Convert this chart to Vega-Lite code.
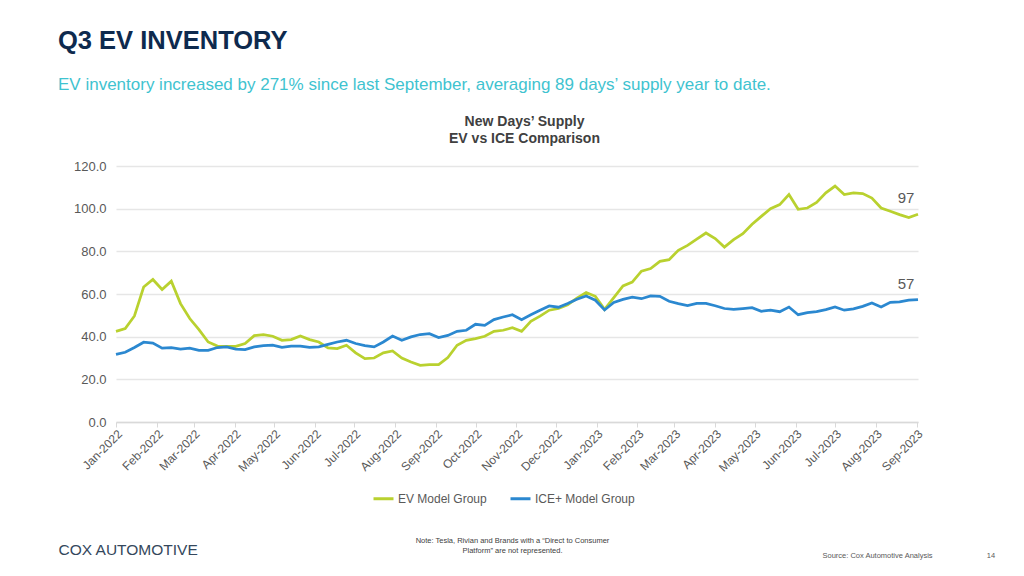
{
  "$schema": "https://vega.github.io/schema/vega-lite/v6.json",
  "width": 802,
  "height": 256,
  "autosize": {"type": "none"},
  "padding": {"left": 116, "top": 166, "right": 106, "bottom": 154},
  "background": "white",
  "title": {
    "text": "Q3 EV INVENTORY",
    "subtitle": "EV inventory increased by 271% since last September, averaging 89 days’ supply year to date.",
    "anchor": "start",
    "frame": "group",
    "dx": -58,
    "offset": 21,
    "font": "Liberation Sans",
    "fontSize": 25.5,
    "fontWeight": "bold",
    "color": "#0e2a4e",
    "subtitleFont": "Liberation Sans",
    "subtitleFontSize": 17,
    "subtitleColor": "#3fc3d0",
    "subtitlePadding": 23
  },
  "data": {
    "values": [
      {"date": "2022/01/01", "ev": 42.5, "ice": 31.7},
      {"date": "2022/01/08", "ev": 43.8, "ice": 32.7},
      {"date": "2022/01/15", "ev": 49.7, "ice": 34.9},
      {"date": "2022/01/22", "ev": 63.3, "ice": 37.4},
      {"date": "2022/01/29", "ev": 66.8, "ice": 37.0},
      {"date": "2022/02/05", "ev": 62.1, "ice": 34.6},
      {"date": "2022/02/12", "ev": 66.0, "ice": 34.9},
      {"date": "2022/02/19", "ev": 55.5, "ice": 34.2},
      {"date": "2022/02/26", "ev": 48.5, "ice": 34.6},
      {"date": "2022/03/05", "ev": 43.3, "ice": 33.6},
      {"date": "2022/03/12", "ev": 37.5, "ice": 33.6},
      {"date": "2022/03/19", "ev": 35.6, "ice": 34.9},
      {"date": "2022/03/26", "ev": 35.5, "ice": 35.2},
      {"date": "2022/04/02", "ev": 35.5, "ice": 34.2},
      {"date": "2022/04/09", "ev": 36.8, "ice": 33.9},
      {"date": "2022/04/16", "ev": 40.5, "ice": 35.2},
      {"date": "2022/04/23", "ev": 41.0, "ice": 35.8},
      {"date": "2022/04/30", "ev": 40.2, "ice": 36.0},
      {"date": "2022/05/07", "ev": 38.3, "ice": 35.0},
      {"date": "2022/05/14", "ev": 38.6, "ice": 35.6},
      {"date": "2022/05/21", "ev": 40.3, "ice": 35.6},
      {"date": "2022/05/28", "ev": 38.6, "ice": 35.0},
      {"date": "2022/06/04", "ev": 37.5, "ice": 35.2},
      {"date": "2022/06/11", "ev": 34.7, "ice": 36.4},
      {"date": "2022/06/18", "ev": 34.4, "ice": 37.5},
      {"date": "2022/06/25", "ev": 36.0, "ice": 38.3},
      {"date": "2022/07/02", "ev": 32.4, "ice": 36.8},
      {"date": "2022/07/09", "ev": 29.7, "ice": 35.8},
      {"date": "2022/07/16", "ev": 30.0, "ice": 35.2},
      {"date": "2022/07/23", "ev": 32.4, "ice": 37.5},
      {"date": "2022/07/30", "ev": 33.3, "ice": 40.3},
      {"date": "2022/08/06", "ev": 30.0, "ice": 38.3},
      {"date": "2022/08/13", "ev": 28.1, "ice": 39.9},
      {"date": "2022/08/20", "ev": 26.6, "ice": 41.0},
      {"date": "2022/08/27", "ev": 26.9, "ice": 41.4},
      {"date": "2022/09/03", "ev": 26.9, "ice": 39.6},
      {"date": "2022/09/10", "ev": 30.2, "ice": 40.6},
      {"date": "2022/09/17", "ev": 36.0, "ice": 42.5},
      {"date": "2022/09/24", "ev": 38.3, "ice": 43.0},
      {"date": "2022/10/01", "ev": 39.1, "ice": 45.8},
      {"date": "2022/10/08", "ev": 40.2, "ice": 45.3},
      {"date": "2022/10/15", "ev": 42.5, "ice": 48.0},
      {"date": "2022/10/22", "ev": 43.0, "ice": 49.2},
      {"date": "2022/10/29", "ev": 44.2, "ice": 50.3},
      {"date": "2022/11/05", "ev": 42.5, "ice": 48.0},
      {"date": "2022/11/12", "ev": 47.2, "ice": 50.3},
      {"date": "2022/11/19", "ev": 49.6, "ice": 52.4},
      {"date": "2022/11/26", "ev": 52.4, "ice": 54.4},
      {"date": "2022/12/03", "ev": 53.2, "ice": 53.8},
      {"date": "2022/12/10", "ev": 55.0, "ice": 55.5},
      {"date": "2022/12/17", "ev": 58.1, "ice": 57.5},
      {"date": "2022/12/24", "ev": 60.7, "ice": 59.1},
      {"date": "2022/12/31", "ev": 58.9, "ice": 57.1},
      {"date": "2023/01/07", "ev": 52.8, "ice": 52.5},
      {"date": "2023/01/14", "ev": 58.3, "ice": 56.0},
      {"date": "2023/01/21", "ev": 63.8, "ice": 57.5},
      {"date": "2023/01/28", "ev": 65.6, "ice": 58.5},
      {"date": "2023/02/04", "ev": 70.7, "ice": 57.8},
      {"date": "2023/02/11", "ev": 71.9, "ice": 59.1},
      {"date": "2023/02/18", "ev": 75.3, "ice": 58.9},
      {"date": "2023/02/25", "ev": 76.1, "ice": 56.6},
      {"date": "2023/03/04", "ev": 80.5, "ice": 55.5},
      {"date": "2023/03/11", "ev": 82.8, "ice": 54.6},
      {"date": "2023/03/18", "ev": 85.7, "ice": 55.6},
      {"date": "2023/03/25", "ev": 88.6, "ice": 55.6},
      {"date": "2023/04/01", "ev": 86.0, "ice": 54.5},
      {"date": "2023/04/08", "ev": 82.0, "ice": 53.2},
      {"date": "2023/04/15", "ev": 85.5, "ice": 52.8},
      {"date": "2023/04/22", "ev": 88.3, "ice": 53.2},
      {"date": "2023/04/29", "ev": 92.7, "ice": 53.6},
      {"date": "2023/05/06", "ev": 96.4, "ice": 51.9},
      {"date": "2023/05/13", "ev": 100.0, "ice": 52.4},
      {"date": "2023/05/20", "ev": 101.9, "ice": 51.7},
      {"date": "2023/05/27", "ev": 106.6, "ice": 53.9},
      {"date": "2023/06/03", "ev": 99.7, "ice": 50.3},
      {"date": "2023/06/10", "ev": 100.3, "ice": 51.3},
      {"date": "2023/06/17", "ev": 102.9, "ice": 51.7},
      {"date": "2023/06/24", "ev": 107.4, "ice": 52.7},
      {"date": "2023/07/01", "ev": 110.6, "ice": 53.9},
      {"date": "2023/07/08", "ev": 106.6, "ice": 52.4},
      {"date": "2023/07/15", "ev": 107.4, "ice": 53.0},
      {"date": "2023/07/22", "ev": 107.1, "ice": 54.2},
      {"date": "2023/07/29", "ev": 105.0, "ice": 55.8},
      {"date": "2023/08/05", "ev": 100.3, "ice": 53.9},
      {"date": "2023/08/12", "ev": 98.8, "ice": 56.1},
      {"date": "2023/08/19", "ev": 97.2, "ice": 56.3},
      {"date": "2023/08/26", "ev": 95.8, "ice": 57.1},
      {"date": "2023/09/02", "ev": 97.4, "ice": 57.4}
    ]
  },
  "transform": [{"fold": ["ev", "ice"], "as": ["group", "value"]}],
  "layer": [
    {
      "mark": {"type": "line", "strokeWidth": 2.75},
      "encoding": {
        "x": {
          "field": "date",
          "type": "temporal",
          "axis": {
            "orient": "bottom",
            "format": "%b-%Y",
            "tickCount": {"interval": "month", "step": 1},
            "labelAngle": -45,
            "labelAlign": "right",
            "labelBaseline": "top",
            "labelFontSize": 12,
            "labelPadding": 1,
            "labelOverlap": false,
            "labelFlush": false,
            "grid": false,
            "domainColor": "#d9d9d9",
            "domainWidth": 1.5,
            "tickColor": "#d9d9d9",
            "tickSize": 5,
            "title": ["Note: Tesla, Rivian and Brands with a “Direct to Consumer", "Platform” are not represented."],
            "titleFontSize": 7.5,
            "titleFontWeight": "normal",
            "titleColor": "#404040",
            "titleX": 396,
            "titleY": 114,
            "titleAlign": "center",
            "titleAnchor": "start",
            "titleBaseline": "top",
            "titleLineHeight": 10
          }
        },
        "y": {
          "field": "value",
          "type": "quantitative",
          "scale": {"domain": [0, 120]},
          "axis": {
            "orient": "left",
            "values": [0, 20, 40, 60, 80, 100, 120],
            "format": ".1f",
            "domain": false,
            "ticks": false,
            "grid": true,
            "gridColor": "#e6e6e6",
            "gridWidth": 1.5,
            "labelFontSize": 13,
            "labelPadding": 10,
            "title": ["New Days’ Supply", "EV vs ICE Comparison"],
            "titleAngle": 0,
            "titleX": 408,
            "titleY": -52,
            "titleAlign": "center",
            "titleAnchor": "start",
            "titleBaseline": "top",
            "titleFontSize": 14,
            "titleFontWeight": "bold",
            "titleColor": "#404040",
            "titleLineHeight": 17
          }
        },
        "color": {
          "field": "group",
          "type": "nominal",
          "scale": {"domain": ["ev", "ice"], "range": ["#b9d12f", "#2b88d0"]},
          "legend": {
            "title": null,
            "orient": "none",
            "legendX": 256,
            "legendY": 321,
            "direction": "horizontal",
            "symbolType": "stroke",
            "symbolSize": 400,
            "symbolStrokeWidth": 3,
            "labelFontSize": 12,
            "labelColor": "#595959",
            "labelOffset": 3,
            "columnPadding": 17,
            "labelExpr": "datum.label == 'ev' ? 'EV Model Group' : 'ICE+ Model Group'"
          }
        }
      }
    },
    {
      "transform": [{"filter": {"field": "date", "equal": {"year": 2023, "month": 9, "date": 2}}}],
      "mark": {"type": "text", "dx": -12, "dy": -8, "fontSize": 15, "color": "#595959", "baseline": "bottom", "align": "center", "font": "Liberation Sans"},
      "encoding": {
        "x": {
          "field": "date",
          "type": "temporal",
          "axis": {
            "orient": "top",
            "labels": false,
            "ticks": false,
            "domain": false,
            "grid": false,
            "title": "COX AUTOMOTIVE",
            "titleX": -58,
            "titleY": 383,
            "titleAlign": "left",
            "titleAnchor": "start",
            "titleBaseline": "middle",
            "titleFontSize": 15.5,
            "titleFontWeight": "normal",
            "titleColor": "#34475c"
          }
        },
        "y": {
          "field": "value",
          "type": "quantitative",
          "axis": {
            "orient": "right",
            "labels": false,
            "ticks": false,
            "domain": false,
            "grid": false,
            "title": "Source: Cox Automotive Analysis\u00a0\u00a0\u00a0\u00a0\u00a0\u00a0\u00a0\u00a0\u00a0\u00a0\u00a0\u00a0\u00a0\u00a0\u00a0\u00a0\u00a0\u00a0\u00a0\u00a0\u00a0\u00a0\u00a0\u00a0\u00a0\u00a014",
            "titleAngle": 0,
            "titleX": -96,
            "titleY": 389,
            "titleAlign": "left",
            "titleAnchor": "start",
            "titleBaseline": "middle",
            "titleFontSize": 7.5,
            "titleFontWeight": "normal",
            "titleColor": "#595959"
          }
        },
        "text": {"field": "value", "type": "quantitative", "format": ".0f"}
      }
    }
  ],
  "resolve": {"axis": {"x": "independent", "y": "independent"}},
  "config": {
    "view": {"stroke": null},
    "font": "Liberation Sans",
    "axis": {"labelFont": "Liberation Sans", "labelColor": "#595959", "titleFont": "Liberation Sans"},
    "legend": {"labelFont": "Liberation Sans"}
  }
}
